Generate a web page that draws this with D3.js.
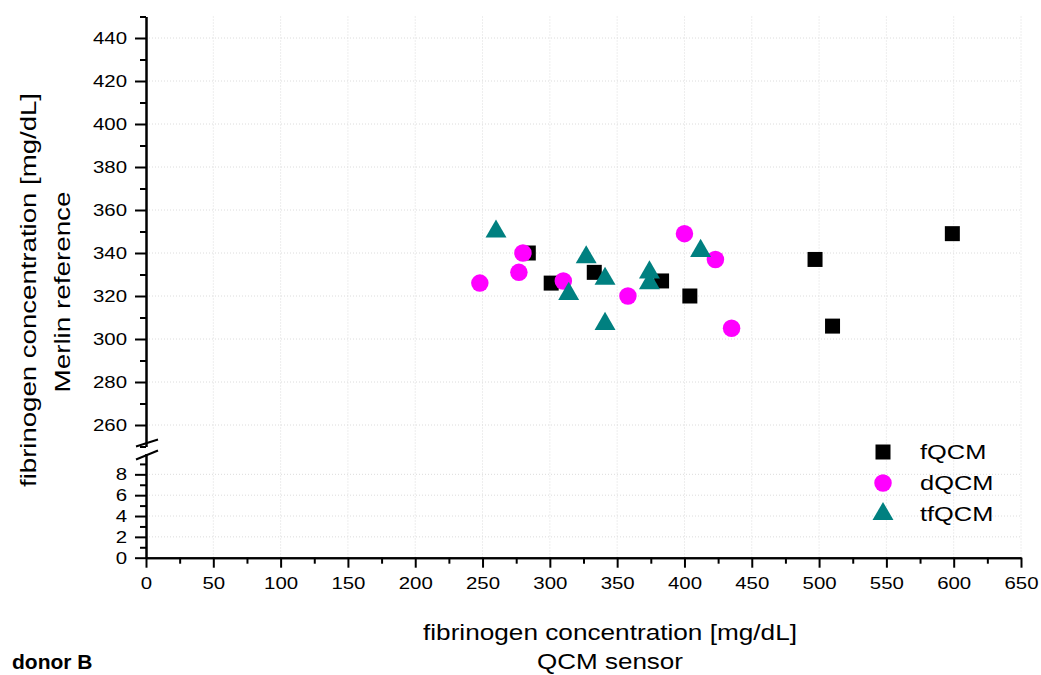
<!DOCTYPE html>
<html>
<head>
<meta charset="utf-8">
<script src="https://cdn.jsdelivr.net/npm/d3@7"></script>
<style>
  body { margin: 0; background: #fff; }
  text { font-family: "Liberation Sans", Arial, sans-serif; fill: #000; }
</style>
</head>
<body>
<svg id="chart"></svg>
<script>
// Data
const SERIES = ["fQCM", "dQCM", "tfQCM"];
const fqcmX = [284, 301, 333, 383, 404, 497, 510, 599];
const fqcmY = [340, 326, 331, 327, 320, 337, 306, 349];
const dqcmX = [248, 277, 280, 310, 358, 400, 423, 435];
const dqcmY = [326, 331, 340, 327, 320, 349, 337, 305];
const tfqcmX = [260, 314, 327, 341, 341, 374, 374, 412];
const tfqcmY = [350, 321, 338, 328, 307, 331, 326, 341];
const xTicks = d3.range(0, 651, 50);
const yUpperTicks = d3.range(260, 441, 20);
const yLowerTicks = [0, 2, 4, 6, 8];

// SVG constants
const WIDTH = 1041;
const HEIGHT = 675;
const AXIS_X = 146;
const COLORS = { fQCM: "#000000", dQCM: "#ff00ff", tfQCM: "#008080" };

const svg = d3.select("#chart")
  .attr("width", WIDTH)
  .attr("height", HEIGHT);

// stretch text along its baseline (the reference fonts are wide)
function stretch(sel, factor) {
  sel.each(function () {
    const w = this.getComputedTextLength();
    d3.select(this).attr("textLength", w * factor).attr("lengthAdjust", "spacingAndGlyphs");
  });
}
function fitTo(sel, len) {
  sel.attr("textLength", len).attr("lengthAdjust", "spacingAndGlyphs");
}

// Scales
const xScale = d3.scaleLinear().domain([0, 650]).range([AXIS_X, 1021]);
const yUpper = d3.scaleLinear().domain([250, 450]).range([446.5, 16.5]);
const yLower = d3.scaleLinear().domain([0, 10]).range([557.7, 453.5]);

// Grid
const grid = svg.append("g")
  .attr("stroke", "#dcdcdc")
  .attr("stroke-width", 1)
  .attr("stroke-dasharray", "1,2");

grid.selectAll(".vgrid")
  .data(xTicks.slice(1))
  .enter()
  .append("line")
  .attr("x1", d => xScale(d))
  .attr("x2", d => xScale(d))
  .attr("y1", yUpper(450))
  .attr("y2", yLower(0));

grid.selectAll(".hgrid-up")
  .data(yUpperTicks)
  .enter()
  .append("line")
  .attr("x1", xScale(0))
  .attr("x2", xScale(650))
  .attr("y1", d => yUpper(d))
  .attr("y2", d => yUpper(d));

grid.selectAll(".hgrid-low")
  .data(yLowerTicks.slice(1))
  .enter()
  .append("line")
  .attr("x1", xScale(0))
  .attr("x2", xScale(650))
  .attr("y1", d => yLower(d))
  .attr("y2", d => yLower(d));

// Axes
function styleAxis(g) {
  g.selectAll("path, line").attr("stroke", "#000").attr("stroke-width", 2);
  g.selectAll("text")
    .attr("font-size", 17)
    .attr("font-family", "Liberation Sans, Arial, sans-serif")
    .attr("fill", "#000")
    .call(stretch, 1.2);
}

// x axis
svg.append("g")
  .attr("transform", `translate(0,${yLower(0)})`)
  .call(d3.axisBottom(xScale).tickValues(d3.range(25, 650, 50)).tickSize(6).tickFormat("").tickSizeOuter(0))
  .call(styleAxis);
svg.append("g")
  .attr("transform", `translate(0,${yLower(0)})`)
  .call(d3.axisBottom(xScale).tickValues(xTicks).tickSize(10).tickPadding(9).tickSizeOuter(0))
  .call(styleAxis);

// upper y axis
svg.append("g")
  .attr("transform", `translate(${AXIS_X},0)`)
  .call(d3.axisLeft(yUpper).tickValues(d3.range(250, 451, 20)).tickSize(6).tickFormat("").tickSizeOuter(0))
  .call(styleAxis);
svg.append("g")
  .attr("transform", `translate(${AXIS_X},0)`)
  .call(d3.axisLeft(yUpper).tickValues(yUpperTicks).tickSize(11).tickPadding(8).tickSizeOuter(0))
  .call(styleAxis);

// lower y axis
svg.append("g")
  .attr("transform", `translate(${AXIS_X},0)`)
  .call(d3.axisLeft(yLower).tickValues([1, 3, 5, 7, 9]).tickSize(6).tickFormat("").tickSizeOuter(0))
  .call(styleAxis);
svg.append("g")
  .attr("transform", `translate(${AXIS_X},0)`)
  .call(d3.axisLeft(yLower).tickValues(yLowerTicks).tickSize(11).tickPadding(8).tickSizeOuter(0))
  .call(styleAxis);

// Axis break marks
const brk = svg.append("g").attr("stroke", "#000").attr("stroke-width", 2);
brk.append("line").attr("x1", AXIS_X - 10).attr("y1", yUpper(250) + 0).attr("x2", AXIS_X + 12).attr("y2", yUpper(250) - 7);
brk.append("line").attr("x1", AXIS_X - 10).attr("y1", yLower(10) + 6).attr("x2", AXIS_X + 12).attr("y2", yLower(10) - 3);

// Markers
const symSquare = d3.symbol().type(d3.symbolSquare).size(225);
const symCircle = d3.symbol().type(d3.symbolCircle).size(240);
const symTriangle = d3.symbol().type(d3.symbolTriangle).size(190);

function drawSeries(xs, ys, sym, color, cls) {
  svg.selectAll("." + cls)
    .data(xs.map((x, i) => ({ x: x, y: ys[i] })))
    .enter()
    .append("path")
    .attr("class", cls)
    .attr("d", sym)
    .attr("transform", d => `translate(${xScale(d.x)},${yUpper(d.y)})`)
    .attr("fill", color);
}

drawSeries(fqcmX, fqcmY, symSquare, COLORS.fQCM, "fqcm");
drawSeries(dqcmX, dqcmY, symCircle, COLORS.dQCM, "dqcm");
drawSeries(tfqcmX, tfqcmY, symTriangle, COLORS.tfQCM, "tfqcm");

// Legend
const legendSyms = [symSquare, symCircle, symTriangle];
const legend = svg.append("g").attr("transform", "translate(883,452)");
SERIES.forEach((name, i) => {
  legend.append("path")
    .attr("d", legendSyms[i])
    .attr("transform", `translate(0,${i * 31})`)
    .attr("fill", COLORS[name]);
  legend.append("text")
    .attr("x", 37)
    .attr("y", i * 31)
    .attr("dy", "0.36em")
    .attr("font-size", 20)
    .text(name)
    .call(stretch, 1.27);
});

// Axis titles
svg.append("text")
  .attr("x", 610)
  .attr("y", 640)
  .attr("text-anchor", "middle")
  .attr("font-size", 22)
  .text("fibrinogen concentration [mg/dL]")
  .call(fitTo, 374);
svg.append("text")
  .attr("x", 610)
  .attr("y", 669)
  .attr("text-anchor", "middle")
  .attr("font-size", 22)
  .text("QCM sensor")
  .call(fitTo, 146);

svg.append("text")
  .attr("transform", "translate(36,290) rotate(-90)")
  .attr("text-anchor", "middle")
  .attr("font-size", 22)
  .text("fibrinogen concentration [mg/dL]")
  .call(fitTo, 394);
svg.append("text")
  .attr("transform", "translate(70,292) rotate(-90)")
  .attr("text-anchor", "middle")
  .attr("font-size", 22)
  .text("Merlin reference")
  .call(fitTo, 201);

svg.append("text")
  .attr("x", 12)
  .attr("y", 669)
  .attr("font-size", 21)
  .attr("font-weight", "bold")
  .text("donor B");
</script>
</body>
</html>
